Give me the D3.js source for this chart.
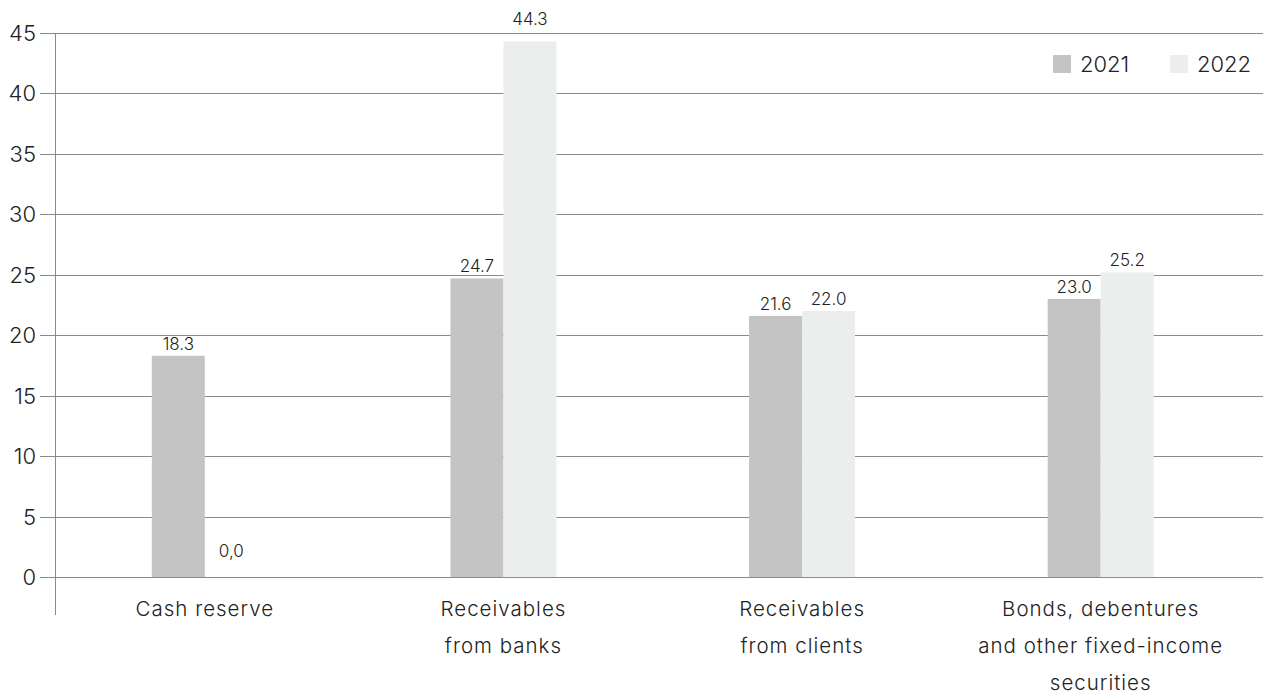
<!DOCTYPE html>
<html><head><meta charset="utf-8">
<script src="https://cdn.jsdelivr.net/npm/d3@7"></script>
<style>body{margin:0;background:#fff}svg{display:block}text{font-family:Inter,"Open Sans",sans-serif;fill:#222;font-weight:300}</style>
</head><body><svg id="c" width="1263" height="697"></svg>
<script>
const categories = [["Cash reserve"],["Receivables","from banks"],["Receivables","from clients"],["Bonds, debentures","and other fixed-income","securities"]];
const years = ["2021","2022"];
const values2021 = [18.3, 24.7, 21.6, 23.0];
const values2022 = [0.0, 44.3, 22.0, 25.2];
const labels2021 = ["18.3","24.7","21.6","23.0"];
const labels2022 = ["0,0","44.3","22.0","25.2"];
const yTicks = [0,5,10,15,20,25,30,35,40,45];
const colors = {"2021":"#c4c4c4","2022":"#eceeee"};

const svg = d3.select("#c");
const W = 1263;
const y = d3.scaleLinear().domain([0,45]).range([577,33]);
const x0 = d3.scaleBand().domain(d3.range(categories.length)).range([55.5,1250]).padding(0);
const x1 = d3.scaleBand().domain(years).range([0,106]).padding(0);

svg.append("g").selectAll("line").data(yTicks).join("line")
  .attr("x1",40).attr("x2",W).attr("y1",d=>Math.round(y(d))+0.5).attr("y2",d=>Math.round(y(d))+0.5)
  .attr("stroke","#8a8a8a").attr("stroke-width",1);
svg.append("g").selectAll("text").data(yTicks).join("text")
  .attr("x",36).attr("y",d=>y(d)+8).attr("text-anchor","end").attr("font-size",22).text(d=>d);
svg.append("line").attr("x1",55.5).attr("x2",55.5).attr("y1",33).attr("y2",615).attr("stroke","#8a8a8a");

const series = [{year:"2021",vals:values2021,labs:labels2021},{year:"2022",vals:values2022,labs:labels2022}];
series.forEach(s=>{
  const g = svg.append("g");
  g.selectAll("rect").data(s.vals).join("rect")
    .attr("x",(d,i)=>x0(i)+x0.bandwidth()/2-53+x1(s.year))
    .attr("width",x1.bandwidth())
    .attr("y",d=>y(d)).attr("height",d=>y(0)-y(d))
    .attr("fill",colors[s.year]);
  g.selectAll("text").data(s.vals).join("text")
    .attr("x",(d,i)=>x0(i)+x0.bandwidth()/2-53+x1(s.year)+x1.bandwidth()/2)
    .attr("y",d=>{ let yy = d===0 ? y(d)-20 : y(d)-6; if (yy < y(45)+12) yy = y(45)-8; return yy; })
    .attr("text-anchor","middle").attr("font-size",17)
    .text((d,i)=>s.labs[i]);
});

const cg = svg.append("g");
categories.forEach((lines,i)=>{
  const cx = x0(i)+x0.bandwidth()/2;
  const t = cg.append("text").attr("text-anchor","middle").attr("font-size",20.5)
    .attr("letter-spacing",1).attr("x",cx).attr("y",616);
  lines.forEach((l,j)=>t.append("tspan").attr("x",cx).attr("dy",j?37:0).text(l));
});

const lg = svg.append("g");
const legX = [1053,1170];
years.forEach((yr,i)=>{
  lg.append("rect").attr("x",legX[i]).attr("y",55).attr("width",18).attr("height",18).attr("fill",colors[yr]);
  lg.append("text").attr("x",legX[i]+27).attr("y",72).attr("font-size",22).text(yr);
});
</script></body></html>
